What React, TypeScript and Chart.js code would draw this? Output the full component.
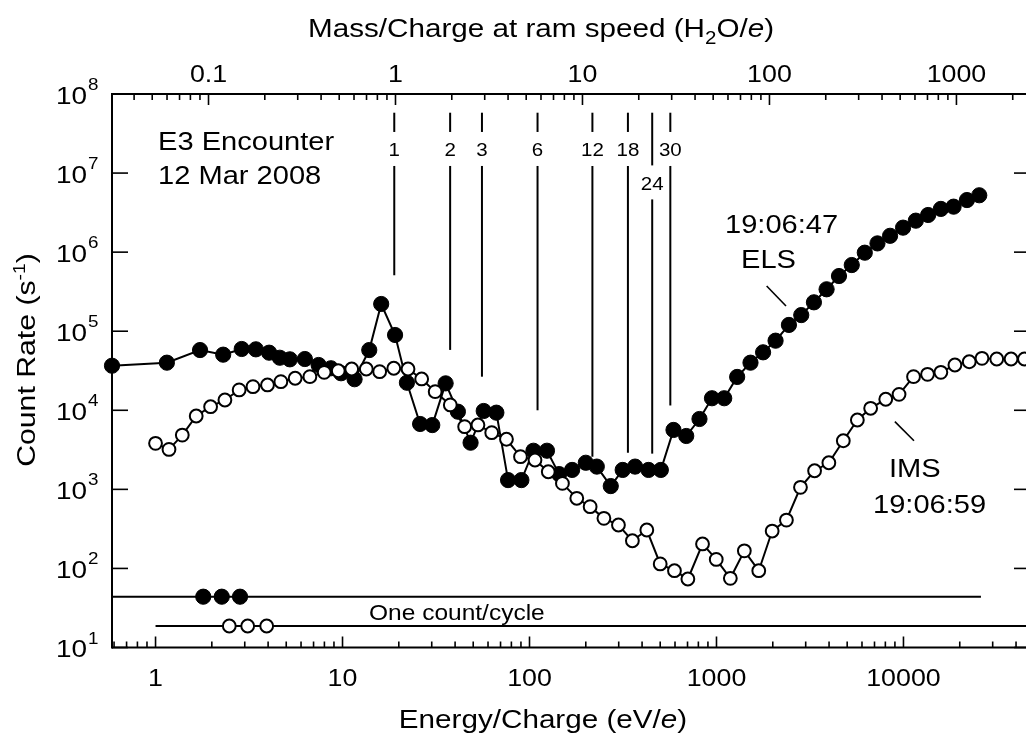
import React, { useEffect, useRef } from "react";
import { Chart, registerables } from "chart.js";

Chart.register(...registerables);

// ---------------- data ----------------
const elsEnergy = [
  0.585, 1.15, 1.73, 2.3, 2.89, 3.44, 4.05, 4.62, 5.23, 6.29, 7.45, 8.67, 9.82, 11.6, 13.9, 16.1,
  19.1, 22.1, 26.0, 30.2, 35.6, 41.4, 48.4, 56.9, 66.5, 76.8, 90.5, 105, 124, 144, 169, 200, 229,
  272, 315, 367, 433, 504, 589, 689, 811, 946, 1100, 1290, 1520, 1775, 2070, 2440, 2840, 3320,
  3880, 4520, 5290, 6210, 7260, 8480, 9950, 11640, 13550, 15850, 18540, 21850, 25430,
];
const elsCount = [
  3.66e4, 4.0e4, 5.78e4, 5.05e4, 5.96e4, 5.9e4, 5.35e4, 4.62e4, 4.41e4, 4.45e4, 3.74e4, 3.4e4,
  2.94e4, 2.47e4, 5.78e4, 2.21e5, 8.96e4, 2.23e4, 6.71e3, 6.5e3, 2.19e4, 9.6e3, 3.89e3, 9.8e3,
  9.33e3, 1.31e3, 1.31e3, 3.08e3, 3.08e3, 1.56e3, 1.76e3, 2.17e3, 1.94e3, 1.1e3, 1.76e3, 1.94e3,
  1.76e3, 1.76e3, 5.64e3, 4.73e3, 7.76e3, 1.42e4, 1.42e4, 2.64e4, 4.0e4, 5.41e4, 7.59e4, 1.2e5,
  1.6e5, 2.32e5, 3.39e5, 4.99e5, 6.87e5, 9.84e5, 1.29e6, 1.61e6, 2.04e6, 2.5e6, 2.95e6, 3.52e6,
  3.76e6, 4.56e6, 5.24e6,
];
const imsEnergy = [
  1.0, 1.18, 1.39, 1.65, 1.97, 2.35, 2.8, 3.32, 3.97, 4.68, 5.58, 6.69, 7.98, 9.49, 11.2, 13.4,
  15.8, 18.8, 22.4, 26.5, 31.3, 37.7, 45, 53, 62.8, 75.3, 89.5, 107, 126, 150, 179, 211, 250, 299,
  355, 424, 500, 596, 703, 842, 997, 1186, 1409, 1683, 1985, 2366, 2813, 3347, 3990, 4767, 5667,
  6675, 8039, 9470, 11320, 13450, 15850, 18840, 22480, 26300, 31540, 37620, 44360,
];
const imsCount = [
  3.82e3, 3.2e3, 4.86e3, 8.47e3, 1.11e4, 1.35e4, 1.81e4, 1.99e4, 2.09e4, 2.3e4, 2.54e4, 2.66e4,
  3.02e4, 3.16e4, 3.33e4, 3.33e4, 3.08e4, 3.4e4, 3.33e4, 2.49e4, 1.72e4, 1.17e4, 6.21e3, 6.52e3,
  5.21e3, 4.3e3, 2.59e3, 2.35e3, 1.67e3, 1.19e3, 771, 604, 430, 354, 224, 306, 114, 93.6, 73.5,
  204, 130, 75, 167, 93.6, 297, 409, 1060, 1720, 2170, 4120, 7540, 10600, 13800, 15900, 26600,
  28500, 30200, 37400, 41100, 45400, 44500, 44500, 44500,
];

// one count per cycle levels and their energy spans
const elsOneCount = 43.9;
const imsOneCount = 18.7;
const elsOneCountSpan = [0.585, 25960];
const imsOneCountSpan = [1.0, 47500];
const elsKeyEnergy = [1.8, 2.26, 2.83];
const imsKeyEnergy = [2.48, 3.11, 3.93];

// axes
const energyMin = 0.585;
const energyMax = 47500;
const eVPerH2O = 19.2; // energy (eV/e) of one H2O/e at ram speed
const countMin = 10;
const countMax = 1e8;
const energyTickLabels = [1, 10, 100, 1000, 10000];
const massTickLabels = [0.1, 1, 10, 100, 1000];
const countTickExponents = [1, 2, 3, 4, 5, 6, 7, 8];

// mass markers (H2O/e)
const massMarkerLabels = ["1", "2", "3", "6", "12", "18", "24", "30"];
const massMarkerAt = [0.985, 1.96, 2.9, 5.75, 11.3, 17.5, 23.6, 29.5];
const massMarkerTop = 5.8e7;
const massMarkerLabelLevel = [1.96e7, 1.96e7, 1.96e7, 1.96e7, 1.96e7, 1.96e7, 7.4e6, 1.96e7];
const massMarkerBottom = [5.1e5, 5.8e4, 2.66e4, 1.0e4, 2.58e3, 2.9e3, 2.83e3, 1.15e4];

// leader lines for series labels [x1, y1, x2, y2]
const elsLeader = [1855, 3.73e5, 2354, 2.08e5];
const imsLeader = [8995, 7180, 11380, 4120];

// ---------------- drawing helpers ----------------
const FONT = '"Liberation Sans", Arial, Helvetica, sans-serif';
const SX = 1.14;

type Part = { t: string; size?: number; dy?: number; italic?: boolean };

function drawRich(ctx: CanvasRenderingContext2D, parts: Part[], x: number, y: number, size: number, align: "left" | "center" | "right") {
  const widths = parts.map((p) => {
    ctx.font = `${p.italic ? "italic " : ""}${p.size ?? size}px ${FONT}`;
    return ctx.measureText(p.t).width * SX;
  });
  const total = widths.reduce((a, b) => a + b, 0);
  let cur = align === "center" ? x - total / 2 : align === "right" ? x - total : x;
  parts.forEach((p, i) => {
    ctx.save();
    ctx.translate(cur, y + (p.dy ?? 0));
    ctx.scale(SX, 1);
    ctx.font = `${p.italic ? "italic " : ""}${p.size ?? size}px ${FONT}`;
    ctx.textAlign = "left";
    ctx.textBaseline = "alphabetic";
    ctx.fillStyle = "#000";
    ctx.fillText(p.t, 0, 0);
    ctx.restore();
    cur += widths[i];
  });
}

function line(ctx: CanvasRenderingContext2D, x1: number, y1: number, x2: number, y2: number, w = 2) {
  ctx.beginPath();
  ctx.lineWidth = w;
  ctx.strokeStyle = "#000";
  ctx.moveTo(x1, y1);
  ctx.lineTo(x2, y2);
  ctx.stroke();
}

const decorations = {
  id: "decorations",
  beforeDatasetsDraw(chart: any) {
    const ctx: CanvasRenderingContext2D = chart.ctx;
    const { left, right, top, bottom } = chart.chartArea;
    const x = chart.scales.x;
    const x2 = chart.scales.x2;
    const y = chart.scales.y;
    ctx.save();
    ctx.lineCap = "butt";
    // frame
    line(ctx, left, bottom, right + 1, bottom);
    line(ctx, left - 1, top, right + 1, top);
    line(ctx, left, top - 1, left, bottom + 1);
    line(ctx, right, top - 1, right, bottom + 1);
    // bottom ticks
    for (let d = 0.1; d <= 1e5; d *= 10) {
      for (let m = 1; m <= 9; m++) {
        const v = m * d;
        if (v < energyMin * 0.999 || v > energyMax) continue;
        const px = x.getPixelForValue(v);
        line(ctx, px, bottom, px, bottom - (m === 1 ? 11 : 6), 1.6);
      }
    }
    // top ticks
    for (let d = 0.01; d <= 1e4; d *= 10) {
      for (let m = 1; m <= 9; m++) {
        const v = m * d;
        if (v < x2.min * 0.999 || v > x2.max) continue;
        const px = x2.getPixelForValue(v);
        line(ctx, px, top, px, top + (m === 1 ? 11 : 6), 1.6);
      }
    }
    // left/right ticks
    countTickExponents.forEach((e) => {
      const py = y.getPixelForValue(Math.pow(10, e));
      line(ctx, left, py, left + 16, py, 1.6);
      line(ctx, right, py, right - 16, py, 1.6);
    });
    // mass markers
    massMarkerAt.forEach((m, i) => {
      const px = x2.getPixelForValue(m);
      const pTop = y.getPixelForValue(massMarkerTop);
      const pLab = y.getPixelForValue(massMarkerLabelLevel[i]);
      const pBot = y.getPixelForValue(massMarkerBottom[i]);
      line(ctx, px, pTop, px, pLab - 18, 2);
      line(ctx, px, pLab + 16, px, pBot, 2);
    });
    // leader lines
    [elsLeader, imsLeader].forEach((l) => {
      line(ctx, x.getPixelForValue(l[0]), y.getPixelForValue(l[1]), x.getPixelForValue(l[2]), y.getPixelForValue(l[3]), 1.6);
    });
    ctx.restore();
  },
  afterDraw(chart: any) {
    const ctx: CanvasRenderingContext2D = chart.ctx;
    const { left, top, bottom } = chart.chartArea;
    const x = chart.scales.x;
    const x2 = chart.scales.x2;
    const y = chart.scales.y;
    ctx.save();
    // bottom tick labels
    energyTickLabels.forEach((v) => {
      drawRich(ctx, [{ t: String(v) }], x.getPixelForValue(v), bottom + 38, 23.5, "center");
    });
    // top tick labels
    massTickLabels.forEach((v) => {
      drawRich(ctx, [{ t: String(v) }], x2.getPixelForValue(v), top - 12, 23.5, "center");
    });
    // y tick labels
    countTickExponents.forEach((e) => {
      const py = y.getPixelForValue(Math.pow(10, e));
      drawRich(ctx, [{ t: "10" }], left - 25, py + 9.5, 24.5, "right");
      drawRich(ctx, [{ t: String(e) }], left - 24, py - 4, 16.5, "left");
    });
    // axis titles
    drawRich(ctx, [{ t: "Energy/Charge (eV/" }, { t: "e", italic: true }, { t: ")" }], 543, 728, 26, "center");
    drawRich(
      ctx,
      [{ t: "Mass/Charge at ram speed (H" }, { t: "2", size: 18, dy: 7 }, { t: "O/" }, { t: "e", italic: true }, { t: ")" }],
      541,
      37,
      26,
      "center"
    );
    ctx.save();
    ctx.translate(35, 360);
    ctx.rotate(-Math.PI / 2);
    drawRich(ctx, [{ t: "Count Rate (s" }, { t: "-1", size: 17, dy: -10 }, { t: ")" }], 0, 0, 26.5, "center");
    ctx.restore();
    // annotations
    drawRich(ctx, [{ t: "E3 Encounter" }], 158, 150, 25.5, "left");
    drawRich(ctx, [{ t: "12 Mar 2008" }], 158, 184, 25.5, "left");
    drawRich(ctx, [{ t: "19:06:47" }], 725, 233, 25.5, "left");
    drawRich(ctx, [{ t: "ELS" }], 741, 268, 25.5, "left");
    drawRich(ctx, [{ t: "IMS" }], 889, 477, 25.5, "left");
    drawRich(ctx, [{ t: "19:06:59" }], 873, 513, 25.5, "left");
    drawRich(ctx, [{ t: "One count/cycle" }], 369, 620, 21.5, "left");
    // mass marker labels
    massMarkerAt.forEach((m, i) => {
      const px = x2.getPixelForValue(m);
      const pLab = y.getPixelForValue(massMarkerLabelLevel[i]);
      drawRich(ctx, [{ t: massMarkerLabels[i] }], px, pLab + 6.5, 18, "center");
    });
    ctx.restore();
  },
};

const pts = (xs: number[], ys: number[]) => xs.map((v, i) => ({ x: v, y: ys[i] }));

const filledPoint = { pointRadius: 7.6, pointBorderWidth: 1, pointBackgroundColor: "#000", pointBorderColor: "#000" };
const openPoint = { pointRadius: 6.4, pointBorderWidth: 2, pointBackgroundColor: "#fff", pointBorderColor: "#000" };

export default function App() {
  const ref = useRef<HTMLCanvasElement>(null);
  useEffect(() => {
    if (!ref.current) return;
    const chart = new Chart(ref.current, {
      type: "line",
      data: {
        datasets: [
          {
            label: "IMS",
            data: pts(imsEnergy, imsCount),
            borderColor: "#000",
            borderWidth: 2,
            ...openPoint,
            tension: 0,
            clip: false as any,
            order: 0,
          },
          {
            label: "ELS",
            data: pts(elsEnergy, elsCount),
            borderColor: "#000",
            borderWidth: 2,
            ...filledPoint,
            tension: 0,
            clip: false as any,
            order: 1,
          },
          {
            label: "ELS key",
            data: elsKeyEnergy.map((v) => ({ x: v, y: elsOneCount })),
            showLine: false,
            ...filledPoint,
            order: 2,
          },
          {
            label: "IMS key",
            data: imsKeyEnergy.map((v) => ({ x: v, y: imsOneCount })),
            showLine: false,
            ...openPoint,
            order: 3,
          },
          {
            label: "ELS one count",
            data: elsOneCountSpan.map((v) => ({ x: v, y: elsOneCount })),
            borderColor: "#000",
            borderWidth: 2,
            pointRadius: 0,
            order: 4,
          },
          {
            label: "IMS one count",
            data: imsOneCountSpan.map((v) => ({ x: v, y: imsOneCount })),
            borderColor: "#000",
            borderWidth: 2,
            pointRadius: 0,
            order: 5,
          },
        ],
      },
      options: {
        responsive: false,
        animation: false,
        devicePixelRatio: 1,
        layout: { padding: { left: 112, top: 94, right: 10, bottom: 95.5 } },
        scales: {
          x: { type: "logarithmic", min: energyMin, max: energyMax, display: false },
          x2: { type: "logarithmic", min: energyMin / eVPerH2O, max: energyMax / eVPerH2O, display: false, position: "top" },
          y: { type: "logarithmic", min: countMin, max: countMax, display: false },
        },
        plugins: { legend: { display: false }, tooltip: { enabled: false } },
        events: [],
      },
      plugins: [decorations],
    } as any);
    return () => chart.destroy();
  }, []);
  return (
    <div style={{ position: "fixed", left: 0, top: 0, width: "100vw", height: "100vh", overflow: "hidden", background: "#fff" }}>
      <canvas ref={ref} width={1040} height={743} style={{ display: "block", width: 1040, height: 743 }} />
    </div>
  );
}
